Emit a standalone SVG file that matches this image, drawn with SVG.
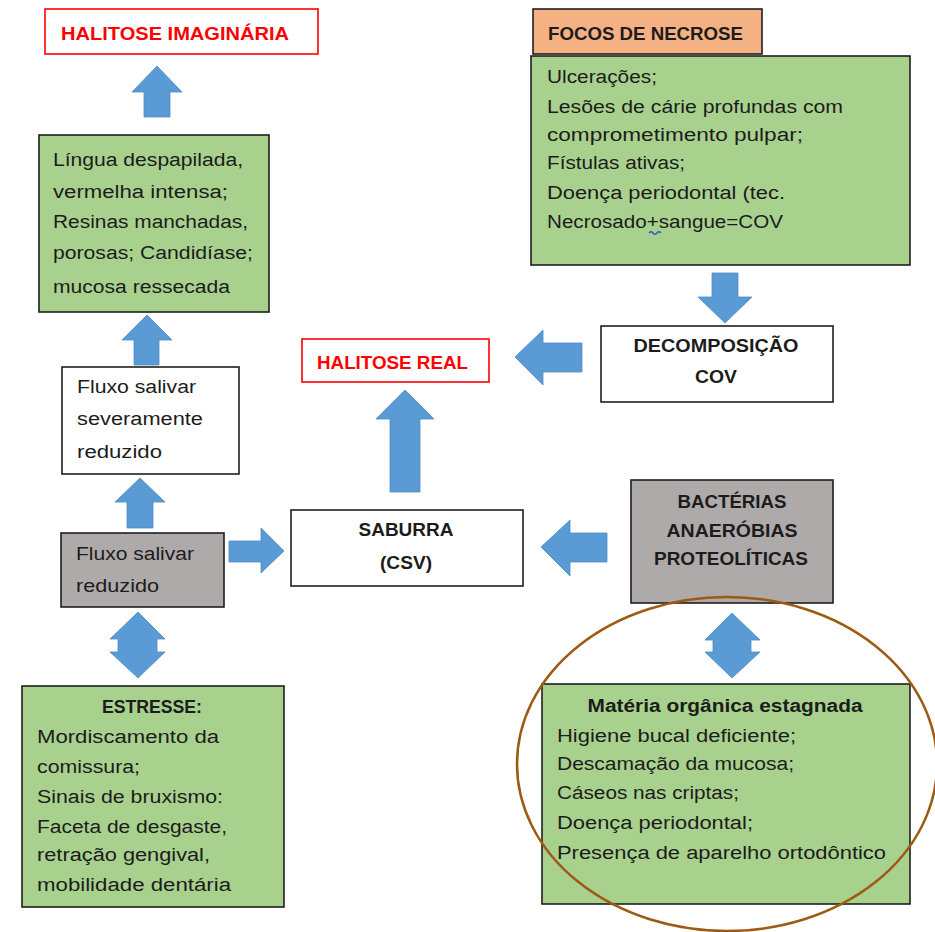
<svg xmlns="http://www.w3.org/2000/svg" width="935" height="932" viewBox="0 0 935 932">
  <style>
    .box { stroke: #1e1e1e; stroke-width: 1.6; }
    .green { fill: #a9d18e; }
    .grey { fill: #aeaaaa; }
    .white { fill: #ffffff; }
    .salmon { fill: #f4b183; }
    .redbox { fill: #ffffff; stroke: #ff0000; stroke-width: 1.6; }
    .arrow { fill: #5b9bd5; stroke: #4f8cc6; stroke-width: 0.8; }
    text { font-family: "Liberation Sans", Arial, sans-serif; font-size: 18px; fill: #1c1c1c; }
    .b { font-weight: bold; }
    .red { fill: #ff0000; font-weight: bold; }
    .mid { text-anchor: middle; }
  </style>

  <rect width="935" height="932" fill="#ffffff"/>

  <!-- connectors: block arrows -->
  <g id="connectors">
    <polygon class="arrow" points="157,66 182,92 170,92 170,117 144,117 144,92 132,92"/>
    <polygon class="arrow" points="147,315 172,340 159,340 159,365 134,365 134,340 122,340"/>
    <polygon class="arrow" points="140,478 165,502 153,502 153,528 127,528 127,502 115,502"/>
    <polygon class="arrow" points="284,551 261,528 261,541 229,541 229,562 261,562 261,573"/>
    <polygon class="arrow" points="405,390 434,419 420,419 420,492 390,492 390,419 376,419"/>
    <polygon class="arrow" points="515,357 543,330 543,343 582,343 582,372 543,372 543,385"/>
    <polygon class="arrow" points="541,547 570,520 570,533 607,533 607,562 570,562 570,576"/>
    <polygon class="arrow" points="725,323 752,297 738,297 738,273 712,273 712,297 698,297"/>
    <polygon class="arrow" points="138,612 165,639 157,639 157,652 165,652 138,678 110,652 118,652 118,639 110,639"/>
    <polygon class="arrow" points="732,613 760,640 751,640 751,652 760,652 732,678 705,652 713,652 713,640 705,640"/>
  </g>

  <g id="halitose-imaginaria">
    <rect class="redbox" x="45" y="9" width="273" height="45"/>
    <text class="red" x="61" y="40" textLength="228" lengthAdjust="spacingAndGlyphs">HALITOSE IMAGINÁRIA</text>
  </g>

  <g id="sinais-clinicos">
    <rect class="box green" x="39" y="135" width="230" height="177"/>
    <text x="53" y="166" textLength="190" lengthAdjust="spacingAndGlyphs">Língua despapilada,</text>
    <text x="53" y="198" textLength="175" lengthAdjust="spacingAndGlyphs">vermelha intensa;</text>
    <text x="53" y="228" textLength="195" lengthAdjust="spacingAndGlyphs">Resinas manchadas,</text>
    <text x="53" y="259" textLength="200" lengthAdjust="spacingAndGlyphs">porosas; Candidíase;</text>
    <text x="53" y="293" textLength="177" lengthAdjust="spacingAndGlyphs">mucosa ressecada</text>
  </g>

  <g id="focos-necrose">
    <rect class="box salmon" x="533" y="9" width="229" height="45"/>
    <text class="b" x="548" y="40" textLength="195" lengthAdjust="spacingAndGlyphs">FOCOS DE NECROSE</text>
  </g>

  <g id="lesoes-necroticas">
    <rect class="box green" x="531" y="56" width="379" height="209"/>
    <text x="547" y="83" textLength="110" lengthAdjust="spacingAndGlyphs">Ulcerações;</text>
    <text x="547" y="113" textLength="296" lengthAdjust="spacingAndGlyphs">Lesões de cárie profundas com</text>
    <text x="547" y="141" textLength="256" lengthAdjust="spacingAndGlyphs">comprometimento pulpar;</text>
    <text x="547" y="169" textLength="138" lengthAdjust="spacingAndGlyphs">Fístulas ativas;</text>
    <text x="547" y="199" textLength="238" lengthAdjust="spacingAndGlyphs">Doença periodontal (tec.</text>
    <text x="547" y="228" textLength="236" lengthAdjust="spacingAndGlyphs">Necrosado+sangue=COV</text>
    <path d="M649,233 q2,-2.5 4,0 t4,0 t4,0" fill="none" stroke="#3050d0" stroke-width="1.3"/>
  </g>

  <g id="decomposicao">
    <rect class="box white" x="601" y="326" width="232" height="76"/>
    <text class="b mid" x="716" y="352" textLength="165" lengthAdjust="spacingAndGlyphs">DECOMPOSIÇÃO</text>
    <text class="b mid" x="716" y="383" textLength="42" lengthAdjust="spacingAndGlyphs">COV</text>
  </g>

  <g id="halitose-real">
    <rect class="redbox" x="302" y="339" width="187" height="43"/>
    <text class="red" x="317" y="369" textLength="151" lengthAdjust="spacingAndGlyphs">HALITOSE REAL</text>
  </g>

  <g id="fluxo-severo">
    <rect class="box white" x="62" y="367" width="177" height="107"/>
    <text x="77" y="393" textLength="119" lengthAdjust="spacingAndGlyphs">Fluxo salivar</text>
    <text x="77" y="425" textLength="126" lengthAdjust="spacingAndGlyphs">severamente</text>
    <text x="77" y="458" textLength="85" lengthAdjust="spacingAndGlyphs">reduzido</text>
  </g>

  <g id="fluxo-reduzido">
    <rect class="box grey" x="61" y="533" width="163" height="74"/>
    <text x="76" y="560" textLength="118" lengthAdjust="spacingAndGlyphs">Fluxo salivar</text>
    <text x="76" y="592" textLength="83" lengthAdjust="spacingAndGlyphs">reduzido</text>
  </g>

  <g id="saburra">
    <rect class="box white" x="291" y="510" width="232" height="76"/>
    <text class="b mid" x="406" y="536" textLength="95" lengthAdjust="spacingAndGlyphs">SABURRA</text>
    <text class="b mid" x="406" y="569" textLength="52" lengthAdjust="spacingAndGlyphs">(CSV)</text>
  </g>

  <g id="bacterias">
    <rect class="box grey" x="631" y="480" width="202" height="123"/>
    <text class="b mid" x="732" y="508" textLength="109" lengthAdjust="spacingAndGlyphs">BACTÉRIAS</text>
    <text class="b mid" x="732" y="537" textLength="131" lengthAdjust="spacingAndGlyphs">ANAERÓBIAS</text>
    <text class="b mid" x="731" y="565" textLength="154" lengthAdjust="spacingAndGlyphs">PROTEOLÍTICAS</text>
  </g>

  <g id="estresse">
    <rect class="box green" x="22" y="686" width="262" height="221"/>
    <text class="b mid" x="152" y="713" textLength="100" lengthAdjust="spacingAndGlyphs">ESTRESSE:</text>
    <text x="37" y="743" textLength="182" lengthAdjust="spacingAndGlyphs">Mordiscamento da</text>
    <text x="37" y="773" textLength="103" lengthAdjust="spacingAndGlyphs">comissura;</text>
    <text x="37" y="803" textLength="186" lengthAdjust="spacingAndGlyphs">Sinais de bruxismo:</text>
    <text x="37" y="833" textLength="190" lengthAdjust="spacingAndGlyphs">Faceta de desgaste,</text>
    <text x="37" y="861" textLength="173" lengthAdjust="spacingAndGlyphs">retração gengival,</text>
    <text x="37" y="891" textLength="194" lengthAdjust="spacingAndGlyphs">mobilidade dentária</text>
  </g>

  <g id="materia-organica">
    <rect class="box green" x="542" y="684" width="368" height="220"/>
    <text class="b mid" x="725" y="712" textLength="275" lengthAdjust="spacingAndGlyphs">Matéria orgânica estagnada</text>
    <text x="557" y="742" textLength="239" lengthAdjust="spacingAndGlyphs">Higiene bucal deficiente;</text>
    <text x="557" y="770" textLength="237" lengthAdjust="spacingAndGlyphs">Descamação da mucosa;</text>
    <text x="557" y="799" textLength="182" lengthAdjust="spacingAndGlyphs">Cáseos nas criptas;</text>
    <text x="557" y="829" textLength="196" lengthAdjust="spacingAndGlyphs">Doença periodontal;</text>
    <text x="557" y="859" textLength="329" lengthAdjust="spacingAndGlyphs">Presença de aparelho ortodôntico</text>
  </g>

  <!-- highlight ring around the organic-matter group -->
  <ellipse cx="727" cy="764" rx="210" ry="167" fill="none" stroke="#9c5a12" stroke-width="2.5"/>
</svg>
